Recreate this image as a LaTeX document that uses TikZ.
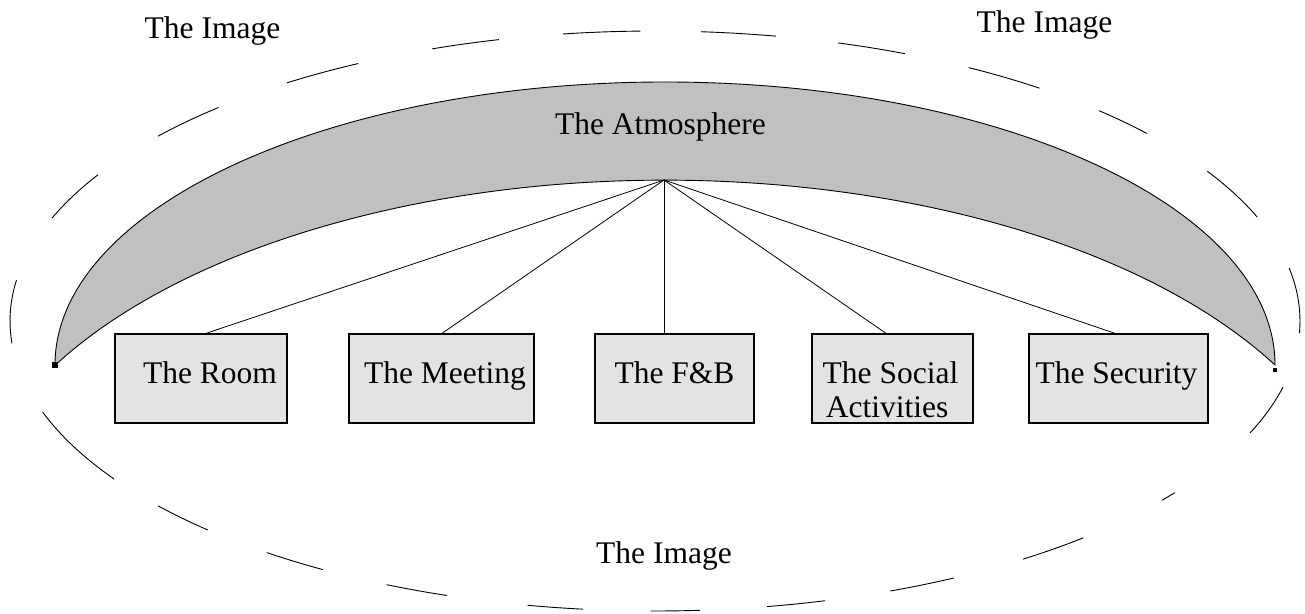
\documentclass[tikz,border=0pt]{standalone}
\usepackage{fontspec}
\setmainfont{Liberation Serif}
\definecolor{crescentgray}{RGB}{192,192,192}
\definecolor{boxgray}{RGB}{227,227,227}
\begin{document}
\begin{tikzpicture}[x=1pt,y=1pt,
  lbl/.style={font=\fontsize{31.5}{36}\selectfont, inner sep=0pt, anchor=base},
  boxnode/.style={draw=black, line width=1.3pt, fill=boxgray, minimum width=#1, minimum height=89pt, inner sep=0pt},
  link/.style={line width=0.8pt},
  imgring/.style={line width=0.9pt},
  crescent/.style={draw=black, line width=0.9pt, fill=crescentgray},
]
\useasboundingbox (0,0) rectangle (1305,613);
\fill[white] (0,0) rectangle (1305,613);

% dashed outer ring (The Image), one arc per dash
\foreach \a/\b in {-2.4/10.5, 21/31.1, 40.3/46.5, 53.4/60.9, 67.2/73.5, 79.2/85.9,
  91.3/98.2, 104/110.2, 117.4/124.8, 132.6/140.4, 149.7/159.2, 171.9/184.4,
  198.3/213, 219.6/226.1, 233/239, 245.4/251.2, 258.6/263.6, 269.6/274,
  280/285.3, 291.4/297.6, 304.8/311.6, 321.8/323.7, 337.3/346.8}
  \draw[imgring] (655,292) ++(\a:645 and 290)
    arc[start angle=\a, end angle=\b, x radius=645, y radius=290];

% crescent (The Atmosphere)
\draw[crescent] (55,248) arc[start angle=180, end angle=0, x radius=610, y radius=283]
  arc[start angle=29.4, end angle=150.6, x radius=700, y radius=363] -- cycle;
\fill[black] (52,245) rectangle (58,251);
\fill[black] (1273,241) rectangle (1277,245);

\coordinate (apex) at (664,433);

% boxes
\node[boxnode=172pt] (room) at (201,234.5) {};
\node[boxnode=185pt] (meeting) at (441.5,234.5) {};
\node[boxnode=159pt] (fb) at (674.5,234.5) {};
\node[boxnode=161pt] (social) at (892.5,234.5) {};
\node[boxnode=179pt] (security) at (1118.5,234.5) {};

% connectors
\draw[link] (apex) -- ([xshift=5pt]room.north);
\draw[link] (apex) -- ([xshift=0.5pt]meeting.north);
\draw[link] (apex) -- ([xshift=-10.5pt]fb.north);
\draw[link] (apex) -- ([xshift=-6.5pt]social.north);
\draw[link] (apex) -- ([xshift=-3.5pt]security.north);

% texts
\node[lbl] (roomtxt) at (210,229) {The Room};
\node[lbl] (meetingtxt) at (445,229) {The Meeting};
\node[lbl] (fbtxt) at (674.5,229) {The F\&B};
\node[lbl] (socialtxt1) at (890.5,229) {The Social};
\node[lbl] (socialtxt2) at (887,195) {Activities};
\node[lbl] (securitytxt) at (1116.5,229) {The Security};

\node[lbl] (atmos) at (660.5,478) {The Atmosphere};
\node[lbl] (imgtl) at (212.5,574) {The Image};
\node[lbl] (imgtr) at (1044.5,580) {The Image};
\node[lbl] (imgb) at (664,50) {The Image};
\end{tikzpicture}
\end{document}
